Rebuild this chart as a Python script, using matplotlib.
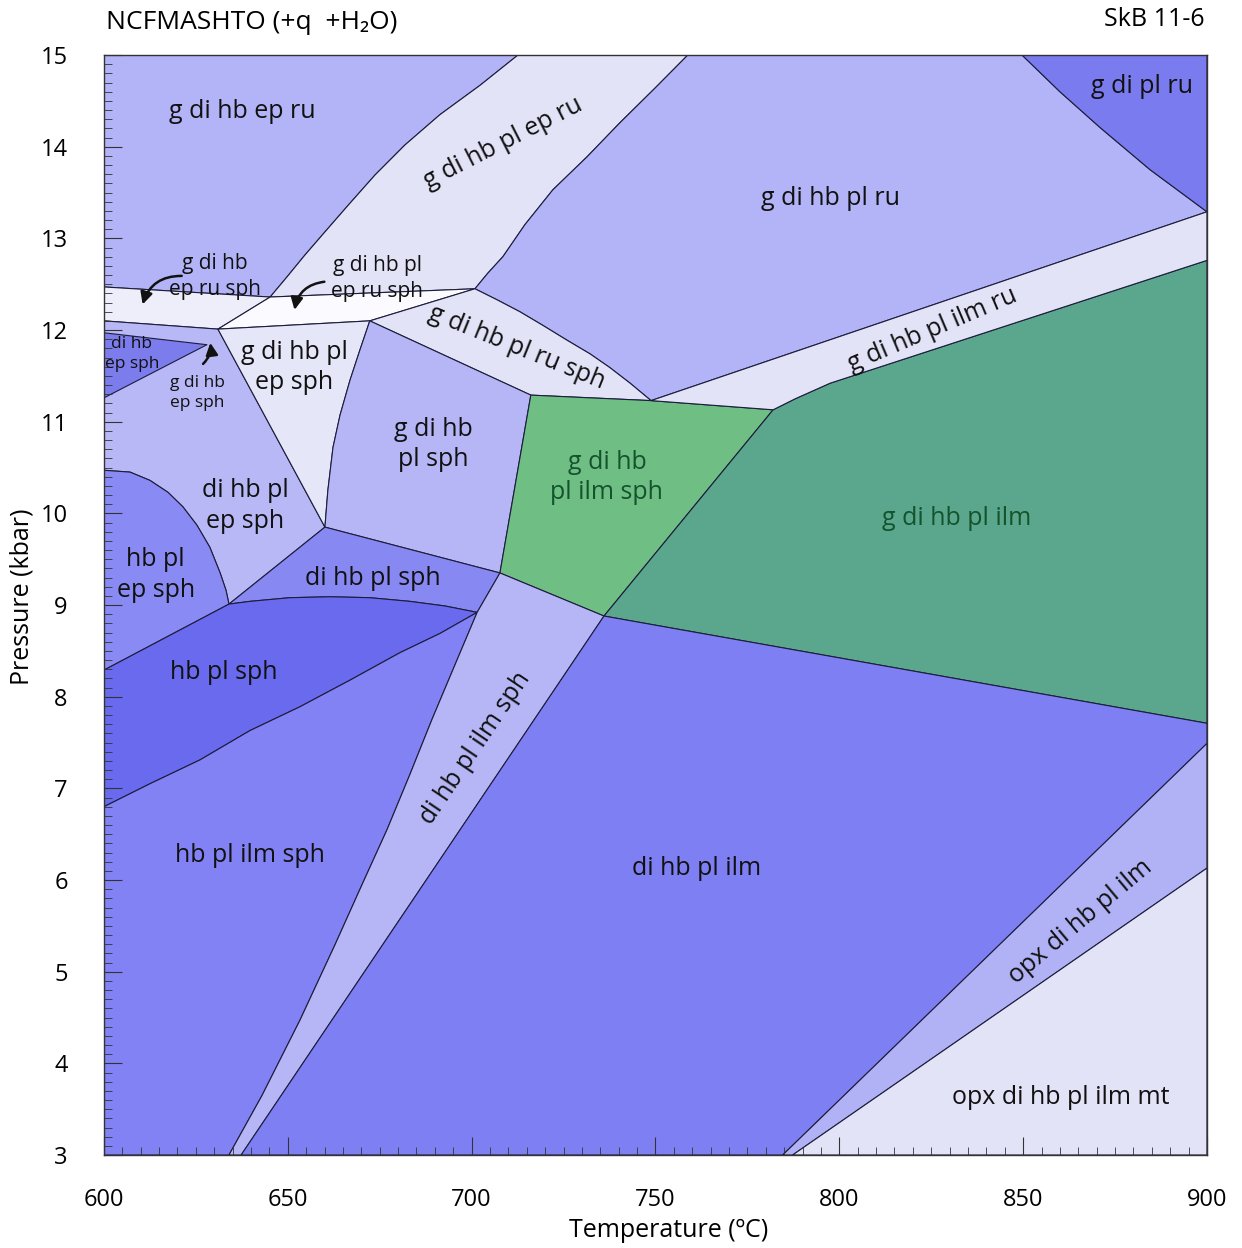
import matplotlib.pyplot as plt
from matplotlib.patches import Polygon, FancyArrowPatch

plt.rcParams['font.family'] = ['Open Sans', 'DejaVu Sans']

# invariant points (T in C, P in kbar)
A = (700.9, 12.45)
B = (645.2, 12.36)
C = (631.0, 12.01)
D = (672.3, 12.10)
E = (628.0, 11.84)
F = (660.1, 9.85)
G = (634.0, 9.01)
H = (707.7, 9.35)
I = (701.5, 8.92)
K = (716.1, 11.29)
L = (748.8, 11.23)
M = (782.0, 11.13)
N = (736.0, 8.88)

# curved field boundaries
left_ep_ru = [(712.6, 15.0), (702.3, 14.67), (691.4, 14.35), (681.9, 14.02), (673.7, 13.69),
              (666.4, 13.36), (660.1, 13.07), (654.7, 12.82), (649.8, 12.58), B]
right_ep_ru = [(758.8, 15.0), (749.9, 14.64), (740.3, 14.26), (731.4, 13.89), (722.1, 13.53),
               (714.5, 13.15), (708.5, 12.80), (704.4, 12.62), A]
ru_sph_top = [A, (706.9, 12.33), (713.1, 12.20), (719.4, 12.05), (725.9, 11.89),
              (732.2, 11.74), (737.6, 11.59), (743.1, 11.42), L]
pl_ep_sph_right = [D, (669.6, 11.78), (666.9, 11.45), (664.2, 11.07), (662.3, 10.72),
                   (660.9, 10.25), F]
ep_sph_curve = [(600, 10.47), (607.1, 10.45), (612.5, 10.36), (617.4, 10.23), (621.5, 10.07),
                (625.3, 9.87), (628.8, 9.63), (631.6, 9.35), (633.2, 9.16), G]
sph_arc = [G, (639.7, 9.04), (650.6, 9.08), (661.5, 9.09), (672.3, 9.08), (683.2, 9.04),
           (692.7, 8.99), I]
pl_sph_base = [(600, 6.80), (612.5, 7.05), (626.1, 7.31), (639.7, 7.63), (653.3, 7.89),
               (666.9, 8.18), (680.5, 8.48), (691.4, 8.69), I]
ilm_sph_left = [I, (695.5, 8.35), (689.2, 7.75), (683.2, 7.15), (677.0, 6.55), (670.2, 5.95),
                (662.8, 5.29), (653.3, 4.47), (643.0, 3.65), (634.0, 3.0)]
gdpr_curve = [(849.7, 15.0), (860.0, 14.60), (870.9, 14.21), (884.5, 13.75), (900, 13.29)]
ilm_ru_top = [L, (900, 13.29)]
ilm_ru_base = [M, (788.0, 11.25), (797.5, 11.42), (900, 12.76)]

c_light = '#e3e3f8'
c_mid = '#b3b3f7'
c_dark = '#7f7ff4'

fields = [
    ([(600, 15)] + left_ep_ru + [(600, 12.47)], c_mid),
    (left_ep_ru + right_ep_ru[::-1], c_light),
    (right_ep_ru + ru_sph_top[1:] + ilm_ru_top[1:] + gdpr_curve[::-1], c_mid),
    (gdpr_curve + [(900, 15)], '#7b7bf0'),
    ([(600, 12.47), B, C, (600, 12.10)], '#eeeefa'),
    ([B, A, D, C], '#fbfbff'),
    (ru_sph_top + [K, D], c_light),
    ([(600, 12.10), C, F, G] + ep_sph_curve[::-1], '#b8b8f6'),
    ([(600, 11.97), E, (600, 11.26)], '#7c7cec'),
    ([C] + pl_ep_sph_right, '#e6e6f9'),
    (pl_ep_sph_right + [H, K], '#b6b6f6'),
    ([K, L, M, N, H], '#6fbf85'),
    (ilm_ru_base + [(900, 7.71), N], '#5aa78d'),
    (ilm_ru_top + ilm_ru_base[::-1], c_light),
    (ep_sph_curve + [(600, 8.29)], '#8a8af4'),
    ([G, F, H] + sph_arc[::-1], '#8888f3'),
    (sph_arc + pl_sph_base[::-1] + [(600, 8.29)], '#6a6aef'),
    (pl_sph_base + ilm_sph_left[1:] + [(600, 3)], '#8282f5'),
    ([H, N, (637.3, 3)] + ilm_sph_left[::-1], '#b6b6f6'),
    ([N, (900, 7.71), (900, 7.49), (784.6, 3), (637.3, 3)], c_dark),
    ([(784.6, 3), (900, 7.49), (900, 6.13), (787.3, 3)], '#b1b1f6'),
    ([(787.3, 3), (900, 6.13), (900, 3)], c_light),
]

labels = ['g di hb ep ru', 'g di hb pl ep ru', 'g di hb pl ru', 'g di pl ru',
          'g di hb\nep ru sph', 'g di hb pl\nep ru sph', 'g di hb pl ru sph',
          'g di hb pl ilm ru', 'di hb\nep sph', 'g di hb\nep sph',
          'g di hb pl\nep sph', 'g di hb\npl sph', 'g di hb\npl ilm sph',
          'g di hb pl ilm', 'di hb pl\nep sph', 'hb pl\nep sph', 'di hb pl sph',
          'hb pl sph', 'hb pl ilm sph', 'di hb pl ilm sph', 'di hb pl ilm',
          'opx di hb pl ilm', 'opx di hb pl ilm mt']
label_T = [637.5, 708.5, 797.7, 882.3, 630.2, 674.3, 712.3, 825.5, 607.6, 625.3,
           651.7, 689.5, 736.8, 832.0, 638.4, 614.1, 673.2, 632.6, 639.7, 700.9,
           761.3, 865.5, 860.3]
label_P = [14.38, 14.04, 13.44, 14.66, 12.58, 12.56, 11.81, 12.0, 11.74, 11.31,
           11.59, 10.75, 10.39, 9.94, 10.08, 9.33, 9.29, 8.26, 6.27, 7.44,
           6.13, 5.54, 3.63]
label_rot = [0, 27, 0, 0, 0, 0, -22, 23, 0, 0, 0, 0, 0, 0, 0, 0, 0, 0, 0, 56, 0, 40, 0]
label_size = [18, 18, 18, 18, 15, 15, 18, 18, 12.5, 12.5, 18, 18, 18, 18, 18, 18,
              18, 18, 18, 18, 18, 18, 18]
green_labels = ['g di hb\npl ilm sph', 'g di hb pl ilm']

# small-field pointers: (tail, head, bend)
arrows = [((621.9, 12.59), (610.3, 12.25), 0.4),
          ((660.7, 12.53), (651.7, 12.19), 0.4),
          ((626.4, 11.61), (628.8, 11.89), 0.3)]

fig = plt.figure(figsize=(12.42, 12.48), dpi=100)
ax = fig.add_axes([0.0837, 0.0745, 0.8881, 0.8814])

for verts, col in fields:
    ax.add_patch(Polygon(verts, closed=True, facecolor=col, edgecolor='#1c1c3c',
                         linewidth=0.8, joinstyle='round'))

for txt, t, p, r, s in zip(labels, label_T, label_P, label_rot, label_size):
    col = '#15532d' if txt in green_labels else '#111111'
    ax.text(t, p, txt, ha='center', va='center', rotation=r, fontsize=s,
            color=col, linespacing=1.3, rotation_mode='anchor')

for tail, head, rad in arrows:
    ax.add_patch(FancyArrowPatch(tail, head, connectionstyle='arc3,rad=%s' % rad,
                                 arrowstyle='-|>', mutation_scale=18, lw=1.8,
                                 color='#111111'))

ax.set_xlim(600, 900)
ax.set_ylim(3, 15)
ax.set_xticks(range(600, 901, 50))
ax.set_xticks(range(600, 901, 5), minor=True)
ax.set_yticks(range(3, 16))
ax.set_yticks([3 + i * 0.1 for i in range(121)], minor=True)
ax.tick_params(which='both', direction='in', top=False, right=False,
               color='#333333', labelsize=17)
ax.tick_params(which='major', length=13, width=0.8)
ax.tick_params(which='minor', length=6, width=0.6)
ax.tick_params(axis='x', pad=24)
ax.tick_params(axis='y', pad=26)
for sp in ax.spines.values():
    sp.set_color('#333333')
    sp.set_linewidth(1.0)

fig.text(0.538, 0.0144, 'Temperature (ºC)', ha='center', va='center', fontsize=18)
fig.text(0.0177, 0.5216, 'Pressure (kbar)', ha='center', va='center',
         rotation=90, fontsize=18)
fig.text(0.085, 0.982, 'NCFMASHTO (+q  +H₂O)', ha='left', va='center', fontsize=19)
fig.text(0.970, 0.984, 'SkB 11-6', ha='right', va='center', fontsize=18)

fig.savefig('out.png', dpi=100)
